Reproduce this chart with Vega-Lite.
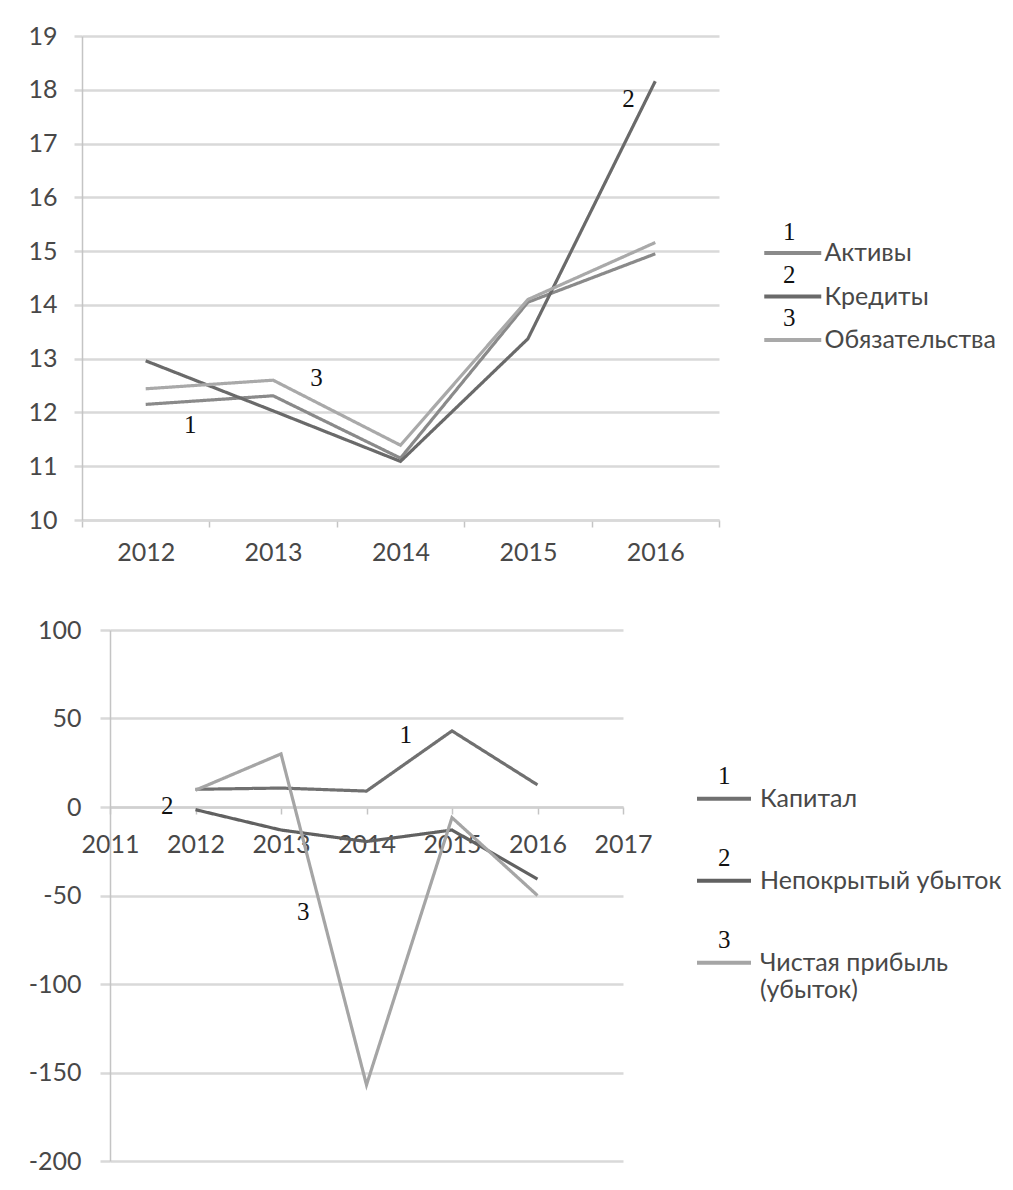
{
  "$schema": "https://vega.github.io/schema/vega-lite/v6.json",
  "background": "white",
  "padding": {"left": 27, "top": 24, "right": 0, "bottom": 0},
  "datasets": {
    "top": [
      {"year": 2012, "series": "Активы", "num": "1", "value": 12.15},
      {"year": 2013, "series": "Активы", "num": "1", "value": 12.31},
      {"year": 2014, "series": "Активы", "num": "1", "value": 11.15},
      {"year": 2015, "series": "Активы", "num": "1", "value": 14.05},
      {"year": 2016, "series": "Активы", "num": "1", "value": 14.95},
      {"year": 2012, "series": "Кредиты", "num": "2", "value": 12.96},
      {"year": 2013, "series": "Кредиты", "num": "2", "value": 12.03},
      {"year": 2014, "series": "Кредиты", "num": "2", "value": 11.09},
      {"year": 2015, "series": "Кредиты", "num": "2", "value": 13.37},
      {"year": 2016, "series": "Кредиты", "num": "2", "value": 18.16},
      {"year": 2012, "series": "Обязательства", "num": "3", "value": 12.44},
      {"year": 2013, "series": "Обязательства", "num": "3", "value": 12.6},
      {"year": 2014, "series": "Обязательства", "num": "3", "value": 11.39},
      {"year": 2015, "series": "Обязательства", "num": "3", "value": 14.1},
      {"year": 2016, "series": "Обязательства", "num": "3", "value": 15.16}
    ],
    "topNotes": [
      {"year": 2012.35, "value": 11.77, "label": "1"},
      {"year": 2013.34, "value": 12.64, "label": "3"},
      {"year": 2015.79, "value": 17.83, "label": "2"}
    ],
    "bottom": [
      {"year": 2012, "series": "Капитал", "num": "1", "value": 10},
      {"year": 2013, "series": "Капитал", "num": "1", "value": 10.7},
      {"year": 2014, "series": "Капитал", "num": "1", "value": 9},
      {"year": 2015, "series": "Капитал", "num": "1", "value": 43},
      {"year": 2016, "series": "Капитал", "num": "1", "value": 12.5},
      {"year": 2012, "series": "Непокрытый убыток", "num": "2", "value": -1.5},
      {"year": 2013, "series": "Непокрытый убыток", "num": "2", "value": -13},
      {"year": 2014, "series": "Непокрытый убыток", "num": "2", "value": -19.5},
      {"year": 2015, "series": "Непокрытый убыток", "num": "2", "value": -13},
      {"year": 2016, "series": "Непокрытый убыток", "num": "2", "value": -40.7},
      {"year": 2012, "series": "Чистая прибыль (убыток)", "num": "3", "value": 9.5},
      {"year": 2013, "series": "Чистая прибыль (убыток)", "num": "3", "value": 30},
      {"year": 2014, "series": "Чистая прибыль (убыток)", "num": "3", "value": -157},
      {"year": 2015, "series": "Чистая прибыль (убыток)", "num": "3", "value": -6},
      {"year": 2016, "series": "Чистая прибыль (убыток)", "num": "3", "value": -50}
    ],
    "bottomNotes": [
      {"year": 2014.46, "value": 40.7, "label": "1"},
      {"year": 2011.67, "value": 0.6, "label": "2"},
      {"year": 2013.26, "value": -59.3, "label": "3"}
    ]
  },
  "concat": [
    {
      "width": 637,
      "height": 484,
      "layer": [
        {
          "data": {"name": "top"},
          "mark": {"type": "line", "strokeWidth": 3.2},
          "encoding": {
            "x": {
              "field": "year", "type": "quantitative",
              "scale": {"domain": [2011.5, 2016.5], "nice": false, "zero": false},
              "axis": {
                "title": null, "grid": false,
                "values": [2011.5, 2012, 2012.5, 2013, 2013.5, 2014, 2014.5, 2015, 2015.5, 2016, 2016.5],
                "labelExpr": "datum.value % 1 == 0 ? '' + datum.value : ''",
                "labelFlush": false, "labelOverlap": false,
                "tickSize": 7, "tickColor": "#c4c4c4", "tickWidth": 1.5,
                "tickOpacity": {"condition": {"test": "datum.value % 1 != 0", "value": 1}, "value": 0},
                "domainColor": "#d9d9d9", "domainWidth": 2.5,
                "labelPadding": 13
              }
            },
            "y": {
              "field": "value", "type": "quantitative",
              "scale": {"domain": [10, 19], "nice": false, "zero": false},
              "axis": {
                "title": null,
                "values": [10, 11, 12, 13, 14, 15, 16, 17, 18, 19],
                "labelExpr": "'' + datum.value",
                "gridColor": "#d9d9d9", "gridWidth": 2.5,
                "tickSize": 8, "tickColor": "#d9d9d9", "tickWidth": 2.5,
                "domainColor": "#c4c4c4", "domainWidth": 1.5,
                "labelPadding": 17
              }
            },
            "color": {
              "field": "series", "type": "nominal",
              "scale": {"domain": ["Активы", "Кредиты", "Обязательства"], "range": ["#8a8a8a", "#6a6a6a", "#a9a9a9"]},
              "legend": {
                "orient": "none", "legendX": 708.5, "legendY": 200.5, "title": null,
                "symbolType": "M-3,0H1", "symbolSize": 812, "symbolStrokeWidth": 4,
                "labelOffset": 1, "rowPadding": 13.5, "padding": 0, "labelLimit": 400,
                "labelFont": "Lato", "labelFontSize": 25, "labelColor": "#484848"
              }
            },
            "strokeDash": {
              "field": "num", "type": "nominal",
              "scale": {"domain": ["1", "2", "3"], "range": [[1, 0], [1, 0], [1, 0]]},
              "legend": {
                "orient": "none", "legendX": 672, "legendY": 181.5, "title": null,
                "symbolType": "M-3,0H1", "symbolSize": 812, "symbolOpacity": 0, "symbolStrokeWidth": 0,
                "labelOffset": 0, "rowPadding": 14.8, "padding": 0,
                "labelFont": "Liberation Serif", "labelFontSize": 25, "labelColor": "#111111"
              }
            }
          }
        },
        {
          "data": {"name": "topNotes"},
          "mark": {"type": "text", "font": "Liberation Serif", "fontSize": 25, "color": "#111111"},
          "encoding": {
            "x": {"field": "year", "type": "quantitative"},
            "y": {"field": "value", "type": "quantitative"},
            "text": {"field": "label"}
          }
        }
      ]
    },
    {
      "width": 541,
      "height": 531,
      "layer": [
        {
          "data": {"name": "bottom"},
          "mark": {"type": "line", "strokeWidth": 3.2},
          "encoding": {
            "x": {
              "field": "year", "type": "quantitative",
              "scale": {"domain": [2011, 2017], "range": [28, 541], "nice": false, "zero": false},
              "axis": {
                "title": null, "grid": false, "offset": -354,
                "values": [2011, 2012, 2013, 2014, 2015, 2016, 2017],
                "labelExpr": "'' + datum.value",
                "labelFlush": false, "labelOverlap": false,
                "tickSize": 7, "tickColor": "#c4c4c4", "tickWidth": 1.5,
                "domainColor": "#d0d0d0", "domainWidth": 2.5,
                "labelPadding": 18
              }
            },
            "y": {
              "field": "value", "type": "quantitative",
              "scale": {"domain": [-200, 100], "nice": false, "zero": false},
              "axis": {
                "title": null, "offset": -28,
                "values": [-200, -150, -100, -50, 0, 50, 100],
                "labelExpr": "datum.value < 0 ? '-' + (-datum.value) : '' + datum.value",
                "gridColor": "#d9d9d9", "gridWidth": 2.5,
                "tickSize": 10, "tickColor": "#d9d9d9", "tickWidth": 2.5,
                "domainColor": "#c4c4c4", "domainWidth": 1.5,
                "labelPadding": 19
              }
            },
            "color": {
              "field": "series", "type": "nominal",
              "scale": {"domain": ["Капитал", "Непокрытый убыток", "Чистая прибыль (убыток)"], "range": ["#707070", "#616161", "#a5a5a5"]},
              "legend": {
                "orient": "none", "legendX": 640, "legendY": 153.3, "title": null,
                "symbolType": "M-3,0H1", "symbolSize": 729, "symbolStrokeWidth": 4,
                "labelOffset": 7, "rowPadding": 53, "padding": 0, "labelLimit": 400,
                "labelExpr": "datum.label == 'Чистая прибыль (убыток)' ? ['Чистая прибыль', '(убыток)'] : datum.label",
                "labelFont": "Lato", "labelFontSize": 25, "labelColor": "#484848", "labelLineHeight": 28
              }
            },
            "strokeDash": {
              "field": "num", "type": "nominal",
              "scale": {"domain": ["1", "2", "3"], "range": [[1, 0], [1, 0], [1, 0]]},
              "legend": {
                "orient": "none", "legendX": 609, "legendY": 132.2, "title": null,
                "symbolType": "M-3,0H1", "symbolSize": 729, "symbolOpacity": 0, "symbolStrokeWidth": 0,
                "labelOffset": 0, "rowPadding": 55, "padding": 0,
                "labelFont": "Liberation Serif", "labelFontSize": 25, "labelColor": "#111111"
              }
            }
          }
        },
        {
          "data": {"name": "bottomNotes"},
          "mark": {"type": "text", "font": "Liberation Serif", "fontSize": 25, "color": "#111111"},
          "encoding": {
            "x": {"field": "year", "type": "quantitative"},
            "y": {"field": "value", "type": "quantitative"},
            "text": {"field": "label"}
          }
        }
      ]
    }
  ],
  "columns": 1,
  "spacing": 53,
  "resolve": {
    "scale": {"color": "independent", "strokeDash": "independent"},
    "legend": {"color": "independent", "strokeDash": "independent"}
  },
  "config": {
    "view": {"stroke": null},
    "axis": {"labelFont": "Lato", "labelFontSize": 25, "labelColor": "#484848"}
  }
}
